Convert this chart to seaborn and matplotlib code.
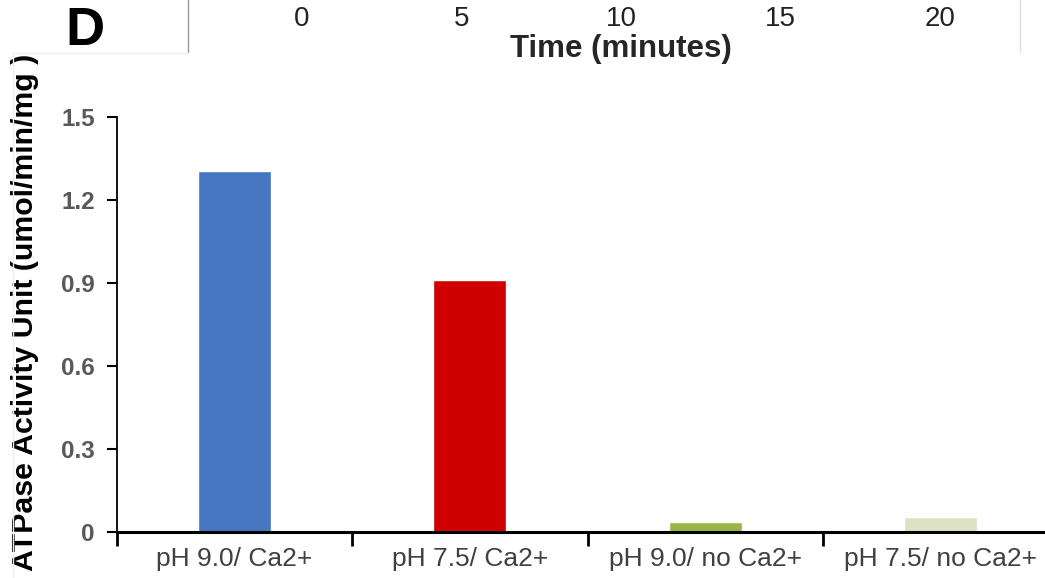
import matplotlib
matplotlib.use("Agg")
import matplotlib.pyplot as plt
from matplotlib import font_manager
import seaborn as sns
import pandas as pd

categories = ["pH 9.0/ Ca2+", "pH 7.5/ Ca2+", "pH 9.0/ no Ca2+", "pH 7.5/ no Ca2+"]
activity = [1.305, 0.91, 0.035, 0.053]
bar_colors = ["#4677C0", "#CE0000", "#9BB545", "#DCE2C4"]
y_ticks = [0, 0.3, 0.6, 0.9, 1.2, 1.5]
y_tick_labels = ["0", "0.3", "0.6", "0.9", "1.2", "1.5"]
time_ticks = [0, 5, 10, 15, 20]

sns.set_theme(style="white")
names = {f.name for f in font_manager.fontManager.ttflist}
narrow = "Liberation Sans Narrow" if "Liberation Sans Narrow" in names else "Liberation Sans"
plt.rcParams["font.family"] = ["Liberation Sans", "DejaVu Sans"]

df = pd.DataFrame({"cond": categories, "val": activity})

W, H = 1045, 578
fig = plt.figure(figsize=(W / 100, H / 100), dpi=100)
ax = fig.add_axes([117 / W, (H - 532) / H, 941 / W, 415 / H])

sns.barplot(data=df, x="cond", y="val", hue="cond", order=categories,
            hue_order=categories, palette=bar_colors, width=0.31,
            legend=False, ax=ax, saturation=1)

ax.set_xlim(-0.5, 3.5)
ax.set_ylim(0, 1.5)
ax.set_yticks(y_ticks)
ax.set_yticklabels(y_tick_labels, fontsize=17.5, fontweight="bold", color="#595959")
ax.set_xticks(range(len(categories)))
ax.set_xticklabels(categories, fontsize=19, color="#404040", family=[narrow, "DejaVu Sans"])
ax.tick_params(axis="x", which="major", length=0, pad=11)
ax.set_xticks([i - 0.5 for i in range(len(categories) + 1)], minor=True)
ax.tick_params(axis="x", which="minor", length=10, width=2, color="black", direction="out", bottom=True)
ax.tick_params(axis="y", length=7, width=1.5, color="black", direction="out", left=True, pad=9)
for s in ["top", "right"]:
    ax.spines[s].set_visible(False)
ax.spines["left"].set_linewidth(1.3)
ax.spines["bottom"].set_linewidth(2.2)
ax.spines["left"].set_color("black")
ax.spines["bottom"].set_color("black")
ax.set_xlabel("")
ax.set_ylabel("ATPase Activity Unit (umol/min/mg )", fontsize=21.8, fontweight="bold", color="black")
ax.yaxis.set_label_coords(-0.083, 0.53)

# remnant of the panel above
top = fig.add_axes([302 / W, 1 - 5 / H, 638 / W, 0.0005])
top.set_xlim(0, 20)
top.set_xticks(time_ticks)
top.set_xticklabels([str(t) for t in time_ticks], fontsize=20, color="#222222", family=[narrow, "DejaVu Sans"])
top.tick_params(axis="x", length=0, pad=1)
top.set_yticks([])
for s in top.spines.values():
    s.set_visible(False)
top.set_xlabel("Time (minutes)", fontsize=22.5, fontweight="bold", family=[narrow, "DejaVu Sans"], labelpad=1)
top.patch.set_alpha(0)

fig.text(65 / W, 1 - 31 / H, "D", fontsize=39, fontweight="bold", va="center", ha="left", color="black")
fig.add_artist(plt.Line2D([188 / W, 188 / W], [1, 1 - 52 / H], color="#999999", lw=1))
fig.add_artist(plt.Line2D([1020 / W, 1020 / W], [1, 1 - 52 / H], color="#dddddd", lw=1))
fig.add_artist(plt.Line2D([13 / W, 188 / W], [1 - 53 / H, 1 - 53 / H], color="#eeeeee", lw=1))
fig.add_artist(plt.Line2D([13 / W, 13 / W], [1 - 53 / H, 0], color="#eeeeee", lw=1))

fig.savefig("out.png", dpi=100)
